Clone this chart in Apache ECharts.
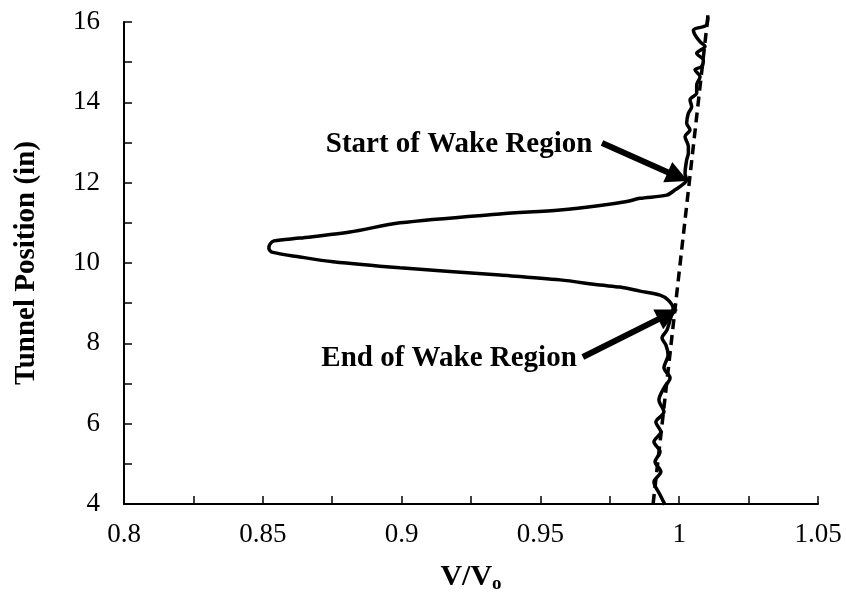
<!DOCTYPE html>
<html>
<head>
<meta charset="utf-8">
<script src="https://cdn.jsdelivr.net/npm/echarts@6/dist/echarts.min.js"></script>
<style>html,body{margin:0;padding:0;background:#fff}#c{width:846px;height:599px}</style>
</head>
<body>
<div id="c"></div>
<script>
// Measured profile: V/Vo (x) versus tunnel position in inches (y), traced bottom to top
const vRatio = [
  0.9949, 0.9931, 0.9909, 0.9934, 0.9913, 0.9931, 0.9909, 0.9934, 0.9916, 0.9945,
  0.9927, 0.9945, 0.9967, 0.9945, 0.9960, 0.9952, 0.9938, 0.9956, 0.9967, 0.9978,
  0.9960, 0.9931, 0.9859, 0.9787, 0.9715, 0.9571, 0.9354, 0.8994, 0.8753, 0.8634,
  0.8533, 0.8522, 0.8526, 0.8540, 0.8634, 0.8814, 0.8994, 0.9354, 0.9571, 0.9715,
  0.9811, 0.9859, 0.9955, 0.9985, 1.0027,
  1.0021, 1.0027, 1.0033, 1.0033, 1.0021, 1.0039, 1.0027, 1.0033, 1.0045, 1.0039,
  1.0063, 1.0063, 1.0075, 1.0057, 1.0081, 1.0087, 1.0063, 1.0093, 1.0075, 1.0057,
  1.0051, 1.0099, 1.0103
];
const tunnelPos = [
  3.98, 4.23, 4.55, 4.80, 5.05, 5.30, 5.55, 5.79, 6.04, 6.29,
  6.59, 6.89, 7.14, 7.39, 7.71, 7.96, 8.13, 8.33, 8.58, 8.88,
  9.08, 9.20, 9.30, 9.40, 9.45, 9.58, 9.70, 9.88, 10.03, 10.15,
  10.27, 10.37, 10.47, 10.55, 10.62, 10.77, 11.00, 11.22, 11.32, 11.43,
  11.53, 11.61, 11.69, 11.82, 12.07,
  12.23, 12.57, 12.73, 12.90, 13.15, 13.31, 13.48, 13.73, 13.89, 14.06,
  14.23, 14.43, 14.64, 14.81, 14.89, 15.05, 15.22, 15.39, 15.51, 15.68,
  15.80, 15.93, 16.17
];
// Dashed reference (free-stream trend) line
const trendV = [0.9906, 1.0104];
const trendPos = [4, 16.17];
// Annotations
const annotationText = ['Start of Wake Region', 'End of Wake Region'];
const annotationAt = [[0.9207, 12.96], [0.9171, 7.61]];
const arrowFrom = [[0.9722, 12.99], [0.9653, 7.66]];
const arrowTo = [[0.9995, 12.15], [0.9960, 8.72]];
// Axis tick labels
const xTickLabels = ['0.8', '0.85', '0.9', '0.95', '1', '1.05'];
const yTickLabels = ['4', '6', '8', '10', '12', '14', '16'];

const font = 'Liberation Serif, Times New Roman, serif';
const profile = vRatio.map((v, i) => [v, tunnelPos[i]]);
const trend = trendV.map((v, i) => [v, trendPos[i]]);

const chart = echarts.init(document.getElementById('c'), null, {renderer: 'canvas'});
chart.setOption({
  animation: false,
  backgroundColor: '#fff',
  grid: {left: 124, right: 28, top: 22, bottom: 95},
  xAxis: {
    type: 'value', min: 0.8, max: 1.05, interval: 0.05,
    name: '{a|V/V}{b|o}', nameLocation: 'middle', nameGap: 56,
    nameTextStyle: {
      rich: {
        a: {fontFamily: font, fontSize: 30, fontWeight: 'bold', color: '#000'},
        b: {fontFamily: font, fontSize: 19, fontWeight: 'bold', color: '#000', padding: [15, 0, 0, 0]}
      }
    },
    axisLine: {show: true, onZero: false, lineStyle: {color: '#000', width: 2}},
    axisTick: {show: true, inside: true, length: 8, lineStyle: {color: '#000', width: 1.5}},
    minorTick: {show: true, splitNumber: 2, length: 8, lineStyle: {color: '#000', width: 1.5}},
    splitLine: {show: false},
    axisLabel: {
      margin: 17, fontFamily: font, fontSize: 27, color: '#000',
      formatter: (v) => { const i = Math.round((v - 0.8) / 0.05); return xTickLabels[i] !== undefined ? xTickLabels[i] : ''; }
    }
  },
  yAxis: {
    type: 'value', min: 4, max: 16, interval: 2,
    name: 'Tunnel Position (in)', nameLocation: 'middle', nameGap: 83,
    nameTextStyle: {fontFamily: font, fontSize: 29, fontWeight: 'bold', color: '#000'},
    axisLine: {show: true, lineStyle: {color: '#000', width: 2}},
    axisTick: {show: true, inside: true, length: 8, lineStyle: {color: '#000', width: 1.5}},
    minorTick: {show: true, splitNumber: 2, length: 8, lineStyle: {color: '#000', width: 1.5}},
    splitLine: {show: false},
    axisLabel: {
      margin: 24, fontFamily: font, fontSize: 27, color: '#000',
      formatter: (v) => { const i = Math.round((v - 4) / 2); return yTickLabels[i] !== undefined ? yTickLabels[i] : ''; }
    }
  },
  series: [
    {
      type: 'line', data: trend, clip: false, showSymbol: false, symbol: 'none', silent: true,
      lineStyle: {color: '#000', width: 3.5, type: [10, 6]}, z: 2
    },
    {
      type: 'line', data: profile, clip: false, showSymbol: false, symbol: 'none', silent: true,
      smooth: 0.3,
      lineStyle: {color: '#000', width: 3.5}, z: 3,
      markLine: {
        silent: true, animation: false,
        symbol: ['none', 'triangle'], symbolSize: [22, 22],
        lineStyle: {color: '#000', width: 6, type: 'solid'},
        itemStyle: {color: '#000'},
        label: {show: false},
        data: arrowFrom.map((f, i) => [{coord: f}, {coord: arrowTo[i]}])
      },
      markPoint: {
        silent: true, animation: false, symbol: 'circle', symbolSize: 0,
        label: {show: true, position: 'inside', fontFamily: font, fontSize: 29, fontWeight: 'bold', color: '#000',
          formatter: (p) => p.name},
        data: annotationText.map((t, i) => ({name: t, coord: annotationAt[i]}))
      }
    }
  ]
});
</script>
</body>
</html>
